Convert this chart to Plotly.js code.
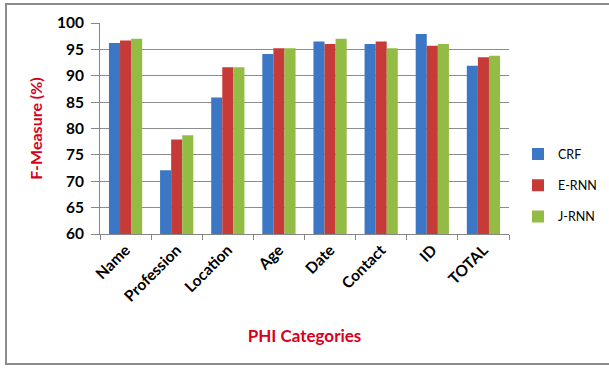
<!DOCTYPE html>
<html>
<head>
<meta charset="utf-8">
<script src="https://cdn.plot.ly/plotly-3.0.1.min.js"></script>
<style>
  html, body { margin: 0; padding: 0; background: #fff; }
  #wrap { position: relative; width: 609px; height: 369px; }
  #chart { width: 609px; height: 369px; }
  #frame { position: absolute; left: 5px; top: 3px; width: 610px; height: 362px;
           border: 2px solid #8c8c8c; pointer-events: none; box-sizing: border-box; }
</style>
</head>
<body>
<div id="wrap">
  <div id="chart"></div>
  <div id="frame"></div>
</div>
<script>
const categories = ["Name", "Profession", "Location", "Age", "Date", "Contact", "ID", "TOTAL"];
const seriesNames = ["CRF", "E-RNN", "J-RNN"];
const crf  = [96.2, 72.1, 85.9, 94.1, 96.5, 96.0, 97.9, 91.9];
const ernn = [96.7, 77.9, 91.6, 95.2, 96.0, 96.5, 95.7, 93.5];
const jrnn = [97.0, 78.7, 91.6, 95.2, 97.0, 95.2, 96.0, 93.8];
const yTicks = [60, 65, 70, 75, 80, 85, 90, 95, 100];

const colors = ["#3b77c5", "#c63b38", "#93bc45"];
const values = [crf, ernn, jrnn];

const traces = values.map((v, i) => ({
  type: "bar",
  name: seriesNames[i],
  x: categories,
  y: v,
  legendgroup: "g" + i,
  marker: { color: colors[i], line: { width: 0 } }
}));

const layout = {
  width: 609, height: 369,
  margin: { l: 100, r: 100, t: 23, b: 135, autoexpand: false },
  paper_bgcolor: "#ffffff",
  plot_bgcolor: "#ffffff",
  barmode: "group",
  bargap: 0.35,
  bargroupgap: 0,
  font: { family: "Lato, 'Open Sans', sans-serif", color: "#000" },
  xaxis: {
    type: "category",
    tickangle: -45,
    automargin: false,
    tickfont: { family: "Lato, sans-serif", size: 15.5, color: "#000", weight: "bold" },
    ticks: "outside", ticklen: 5, tickcolor: "#868686",
    tickson: "boundaries",
    showline: true, linecolor: "#868686", linewidth: 1,
    showgrid: false,
    title: { text: "PHI Categories", standoff: 26,
             font: { family: "Lato, sans-serif", size: 17, color: "#d9001b", weight: "bold" } }
  },
  yaxis: {
    range: [60, 100],
    automargin: false,
    tickvals: yTicks,
    ticktext: yTicks.map(String),
    tickfont: { family: "Lato, sans-serif", size: 15.5, color: "#000", weight: "bold" },
    ticks: "outside", ticklen: 8, tickcolor: "#868686",
    ticklabelstandoff: 4,
    showline: true, linecolor: "#868686", linewidth: 1,
    showgrid: true, gridcolor: "#8c8c8c", gridwidth: 1,
    zeroline: false,
    title: { text: "F-Measure (%)", standoff: 10,
             font: { family: "Lato, sans-serif", size: 16, color: "#d9001b", weight: "bold" } }
  },
  showlegend: true,
  legend: {
    x: 1.022, xanchor: "left", y: 0.23, yanchor: "middle",
    traceorder: "grouped",
    tracegroupgap: 12,
    itemwidth: 30,
    font: { family: "Lato, sans-serif", size: 12.5, color: "#000" },
    bgcolor: "rgba(0,0,0,0)"
  }
};

Plotly.newPlot("chart", traces, layout, { displayModeBar: false, staticPlot: true });
</script>
</body>
</html>
